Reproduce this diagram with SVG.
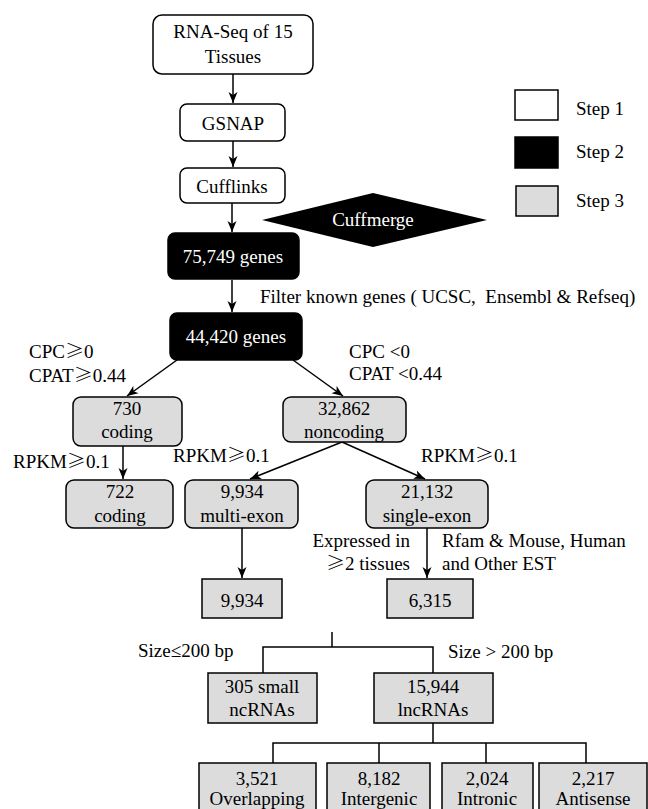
<svg xmlns="http://www.w3.org/2000/svg" width="648" height="809" viewBox="0 0 648 809">
<style>
text{font-family:"Liberation Serif","Times New Roman",serif;font-size:19px;fill:#000}
.c{text-anchor:middle}
.w{fill:#fff}
.g{font-family:"Noto Sans CJK SC",sans-serif;font-weight:300}
.s1{fill:#fff;stroke:#000;stroke-width:1.5}
.s2{fill:#000;stroke:#000;stroke-width:1.5}
.s3{fill:#dcdcdc;stroke:#000;stroke-width:1.5}
.ln{fill:none;stroke:#000;stroke-width:1.5}
</style>
<defs>
<marker id="ar" markerWidth="12" markerHeight="10" refX="11" refY="5" orient="auto" markerUnits="userSpaceOnUse">
<path d="M0,0.5 L11,5 L0,9.5 L3,5 z" fill="#000"/>
</marker>
</defs>
<g id="connectors">
<line class="ln" x1="233" y1="74" x2="233" y2="103" marker-end="url(#ar)"/>
<line class="ln" x1="233" y1="141" x2="233" y2="167" marker-end="url(#ar)"/>
<line class="ln" x1="232" y1="203" x2="232" y2="232" marker-end="url(#ar)"/>
<line class="ln" x1="232" y1="280" x2="232" y2="312" marker-end="url(#ar)"/>
<line class="ln" x1="177" y1="360" x2="127" y2="396" marker-end="url(#ar)"/>
<line class="ln" x1="293" y1="360" x2="343" y2="396" marker-end="url(#ar)"/>
<line class="ln" x1="123" y1="446" x2="123" y2="479" marker-end="url(#ar)"/>
<line class="ln" x1="342" y1="442" x2="250" y2="479" marker-end="url(#ar)"/>
<line class="ln" x1="342" y1="442" x2="425" y2="479" marker-end="url(#ar)"/>
<line class="ln" x1="242" y1="528" x2="242" y2="578" marker-end="url(#ar)"/>
<line class="ln" x1="427" y1="528" x2="427" y2="578" marker-end="url(#ar)"/>
<path class="ln" d="M332,632 V647 M263,673 V647 H433 V673 M433,723 V743 M273,763 V743 H586 V763 M379,743 V763 M486,743 V763"/>
</g>
<g id="rnaseq"><rect class="s1" x="153" y="15" width="160" height="59" rx="9"/><text class="c" x="233" y="38">RNA-Seq of 15</text><text class="c" x="233" y="63">Tissues</text></g>
<g id="gsnap"><rect class="s1" x="180" y="104" width="105" height="37" rx="7"/><text class="c" x="233" y="130">GSNAP</text></g>
<g id="cufflinks"><rect class="s1" x="180" y="168" width="105" height="35" rx="7"/><text class="c" x="232" y="193">Cufflinks</text></g>
<g id="cuffmerge"><polygon fill="#000" points="262,220 373,193 487,220 373,247"/><text class="c w" x="373" y="226">Cuffmerge</text></g>
<g id="g75749"><rect class="s2" x="168" y="233" width="131" height="46" rx="7"/><text class="c w" x="233" y="263">75,749 genes</text></g>
<g id="g44420"><rect class="s2" x="170" y="313" width="132" height="47" rx="7"/><text class="c w" x="236" y="343">44,420 genes</text></g>
<g id="coding730"><rect class="s3" x="73" y="397" width="109" height="49" rx="8"/><text class="c" x="127" y="415">730</text><text class="c" x="127" y="438">coding</text></g>
<g id="noncoding"><rect class="s3" x="283" y="397" width="123" height="45" rx="8"/><text class="c" x="344" y="415">32,862</text><text class="c" x="344" y="438">noncoding</text></g>
<g id="coding722"><rect class="s3" x="66" y="480" width="107" height="48" rx="8"/><text class="c" x="120" y="498">722</text><text class="c" x="120" y="522">coding</text></g>
<g id="multiexon"><rect class="s3" x="185" y="480" width="113" height="48" rx="8"/><text class="c" x="242" y="498">9,934</text><text class="c" x="242" y="522">multi-exon</text></g>
<g id="singleexon"><rect class="s3" x="366" y="480" width="122" height="48" rx="8"/><text class="c" x="427" y="498">21,132</text><text class="c" x="427" y="522">single-exon</text></g>
<g id="n9934"><rect class="s3" x="202" y="579" width="80" height="39"/><text class="c" x="242" y="607">9,934</text></g>
<g id="n6315"><rect class="s3" x="387" y="579" width="86" height="39"/><text class="c" x="430" y="607">6,315</text></g>
<g id="small"><rect class="s3" x="208" y="673" width="109" height="50"/><text class="c" x="262" y="693">305 small</text><text class="c" x="262" y="716">ncRNAs</text></g>
<g id="lnc"><rect class="s3" x="374" y="673" width="119" height="50"/><text class="c" x="433" y="693">15,944</text><text class="c" x="433" y="716">lncRNAs</text></g>
<g id="overlapping"><rect class="s3" x="199" y="763" width="117" height="60"/><text class="c" x="257" y="785">3,521</text><text class="c" x="257" y="805">Overlapping</text></g>
<g id="intergenic"><rect class="s3" x="327" y="763" width="103" height="60"/><text class="c" x="379" y="785">8,182</text><text class="c" x="379" y="805">Intergenic</text></g>
<g id="intronic"><rect class="s3" x="442" y="763" width="91" height="60"/><text class="c" x="487" y="785">2,024</text><text class="c" x="487" y="805">Intronic</text></g>
<g id="antisense"><rect class="s3" x="539" y="763" width="108" height="60"/><text class="c" x="593" y="785">2,217</text><text class="c" x="593" y="805">Antisense</text></g>
<g id="legend">
<rect class="s1" x="515" y="90" width="43" height="30"/><text x="576" y="115">Step 1</text>
<rect class="s2" x="515" y="137" width="43" height="31"/><text x="576" y="158">Step 2</text>
<rect class="s3" x="516" y="186" width="42" height="30"/><text x="576" y="207">Step 3</text>
</g>
<g id="labels">
<text x="260" y="303" xml:space="preserve">Filter known genes ( UCSC,  Ensembl &amp; Refseq)</text>
<text x="29" y="358">CPC<tspan class="g">≥</tspan>0</text>
<text x="29" y="382">CPAT<tspan class="g">≥</tspan>0.44</text>
<text x="349" y="358">CPC &lt;0</text>
<text x="349" y="380">CPAT &lt;0.44</text>
<text x="13" y="468">RPKM<tspan class="g">≥</tspan>0.1</text>
<text x="173" y="462">RPKM<tspan class="g">≥</tspan>0.1</text>
<text x="421" y="462">RPKM<tspan class="g">≥</tspan>0.1</text>
<text x="410" y="547" text-anchor="end">Expressed in</text>
<text x="410" y="570" text-anchor="end"><tspan class="g">≥</tspan>2 tissues</text>
<text x="442" y="547">Rfam &amp; Mouse, Human</text>
<text x="442" y="570">and Other EST</text>
<text x="138" y="657">Size≤200 bp</text>
<text x="448" y="658">Size &gt; 200 bp</text>
</g>
</svg>
